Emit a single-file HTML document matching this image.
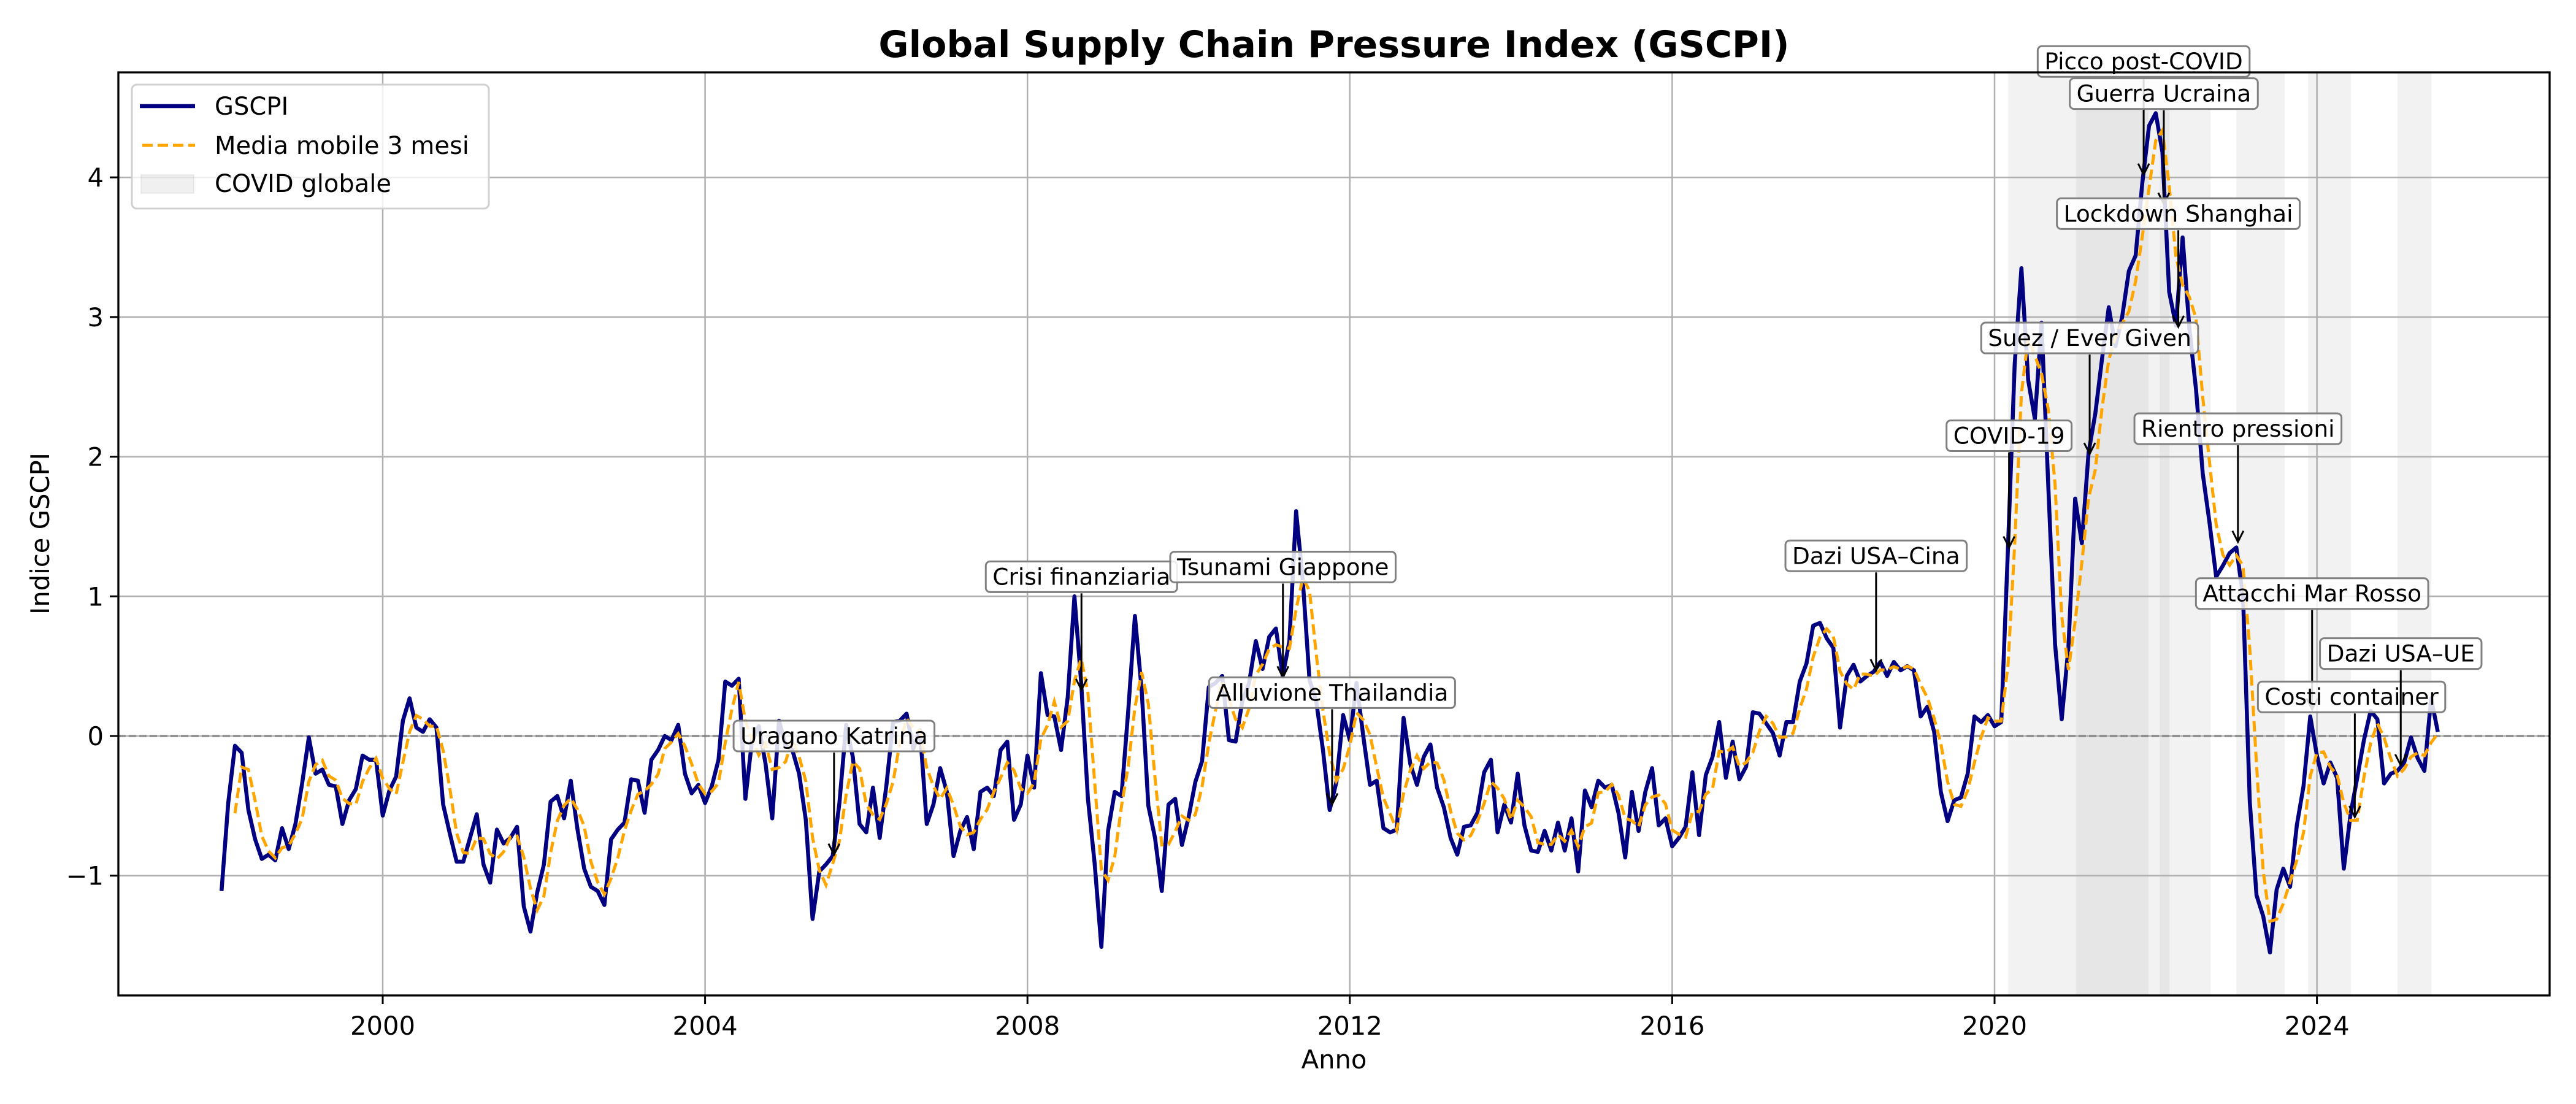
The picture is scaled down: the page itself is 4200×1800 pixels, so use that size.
<!DOCTYPE html>
<html><head><meta charset="utf-8"><style>
html,body{margin:0;padding:0;background:#fff;}
svg{display:block;font-family:"DejaVu Sans","Liberation Sans",sans-serif;}
</style></head><body>
<svg id="chart" width="4200" height="1800" viewBox="0 0 4200 1800" xmlns="http://www.w3.org/2000/svg">
<rect x="0" y="0" width="4200" height="1800" fill="#fff"/>
<text x="2175" y="93" text-anchor="middle" font-size="60" font-weight="bold">Global Supply Chain Pressure Index (GSCPI)</text>
<g id="spans"></g><g id="grid"></g><g id="zero"></g><g id="series"></g><g id="annots"></g><g id="axes"></g>
<text x="2175" y="1742" text-anchor="middle" font-size="41.7">Anno</text>
<text x="0" y="0" transform="translate(80,870) rotate(-90)" text-anchor="middle" font-size="41.7">Indice GSCPI</text>
<g>
<rect x="215" y="138" width="582" height="202" rx="8" fill="#fff" fill-opacity="0.8" stroke="#d0d0d0" stroke-width="3"/>
<line x1="228" y1="173" x2="318" y2="173" stroke="#000080" stroke-width="6.5"/>
<text x="350" y="187" font-size="40">GSCPI</text>
<line x1="232" y1="237" x2="318" y2="237" stroke="orange" stroke-width="5" stroke-dasharray="17,8"/>
<text x="350" y="251" font-size="40">Media mobile 3 mesi</text>
<rect x="230" y="285" width="86" height="30" fill="#808080" fill-opacity="0.12" stroke="#808080" stroke-opacity="0.12" stroke-width="2"/>
<text x="350" y="313" font-size="40">COVID globale</text>
</g>
</svg>
<script>
const startYear = 1998;
const gscpi = [
-1.11,-0.48,-0.07,-0.12,-0.53,-0.74,-0.88,-0.85,-0.89,-0.66,-0.81,-0.63,
-0.34,-0.01,-0.27,-0.24,-0.35,-0.36,-0.63,-0.46,-0.38,-0.14,-0.17,-0.17,
-0.57,-0.39,-0.29,0.11,0.27,0.06,0.03,0.12,0.06,-0.49,-0.70,-0.90,
-0.90,-0.73,-0.56,-0.92,-1.05,-0.67,-0.77,-0.73,-0.65,-1.22,-1.40,-1.12,
-0.92,-0.47,-0.43,-0.59,-0.32,-0.67,-0.95,-1.08,-1.11,-1.21,-0.74,-0.67,
-0.62,-0.31,-0.32,-0.55,-0.17,-0.10,0.0,-0.03,0.08,-0.27,-0.41,-0.35,
-0.48,-0.36,-0.17,0.39,0.36,0.41,-0.45,-0.03,0.07,-0.20,-0.59,0.11,
-0.07,-0.10,-0.27,-0.60,-1.31,-0.97,-0.92,-0.86,-0.48,0.08,-0.15,-0.63,
-0.69,-0.37,-0.73,-0.35,0.10,0.11,0.16,-0.09,0.04,-0.63,-0.49,-0.23,
-0.40,-0.86,-0.68,-0.58,-0.81,-0.40,-0.37,-0.43,-0.10,-0.04,-0.60,-0.49,
-0.14,-0.37,0.45,0.15,0.14,-0.10,0.28,1.0,0.38,-0.45,-0.91,-1.51,
-0.68,-0.40,-0.43,0.18,0.86,0.33,-0.50,-0.73,-1.11,-0.49,-0.45,-0.78,
-0.58,-0.33,-0.18,0.35,0.38,0.43,-0.03,-0.04,0.25,0.38,0.68,0.48,
0.71,0.77,0.43,0.68,1.61,1.11,0.40,0.25,-0.10,-0.53,-0.33,0.15,
-0.03,0.38,0.0,-0.35,-0.32,-0.66,-0.69,-0.67,0.13,-0.20,-0.35,-0.15,
-0.06,-0.37,-0.51,-0.73,-0.85,-0.65,-0.64,-0.55,-0.26,-0.17,-0.69,-0.49,
-0.62,-0.27,-0.64,-0.82,-0.83,-0.68,-0.82,-0.62,-0.82,-0.59,-0.97,-0.39,
-0.51,-0.32,-0.37,-0.35,-0.55,-0.87,-0.40,-0.68,-0.40,-0.23,-0.64,-0.59,
-0.79,-0.73,-0.65,-0.26,-0.71,-0.28,-0.15,0.10,-0.30,-0.04,-0.31,-0.22,
0.17,0.16,0.09,0.02,-0.14,0.10,0.10,0.39,0.52,0.79,0.81,0.70,
0.63,0.06,0.43,0.51,0.39,0.43,0.46,0.53,0.43,0.53,0.47,0.50,
0.47,0.14,0.21,0.03,-0.40,-0.61,-0.46,-0.44,-0.27,0.14,0.10,0.15,
0.07,0.10,1.35,2.66,3.35,2.55,2.27,2.96,1.79,0.66,0.12,0.64,
1.70,1.38,2.03,2.31,2.70,3.07,2.79,3.00,3.33,3.44,3.96,4.37,
4.46,4.18,3.18,2.94,3.57,2.92,2.48,1.88,1.53,1.14,1.22,1.31,
1.35,1.00,-0.47,-1.14,-1.29,-1.55,-1.10,-0.95,-1.08,-0.64,-0.36,0.14,
-0.14,-0.34,-0.19,-0.30,-0.95,-0.56,-0.30,-0.03,0.18,0.12,-0.34,-0.27,
-0.25,-0.19,-0.01,-0.16,-0.25,0.27,0.03
];
const xTicks = [2000,2004,2008,2012,2016,2020,2024];
const yTicks = [-1,0,1,2,3,4];
const spanStarts = [2020.17,2021.01,2022.05,2023.0,2023.89,2025.0];
const spanEnds   = [2022.68,2021.91,2022.17,2023.6,2024.42,2025.42];
const annText = ["Uragano Katrina","Crisi finanziaria","Tsunami Giappone","Alluvione Thailandia","Dazi USA–Cina","COVID-19","Suez / Ever Given","Picco post-COVID","Guerra Ucraina","Lockdown Shanghai","Rientro pressioni","Attacchi Mar Rosso","Costi container","Dazi USA–UE"];
const annTextX = [2005.6,2008.67,2011.17,2011.78,2018.53,2020.18,2021.18,2021.85,2022.1,2022.28,2023.02,2023.94,2024.43,2025.04];
const annTextY = [0.0,1.14,1.21,0.31,1.29,2.15,2.85,4.83,4.6,3.74,2.2,1.02,0.28,0.59];
const annPtX = [2005.6,2008.67,2011.17,2011.78,2018.53,2020.18,2021.18,2021.85,2022.1,2022.28,2023.02,2023.94,2024.47,2025.04];
const annPtY = [-0.85,0.33,0.42,-0.49,0.47,1.35,2.02,4.02,3.81,2.93,1.39,0.19,-0.58,-0.21];

const L=193,R=4157,T=118,B=1623;
const X = yr => 624 + (yr-2000)*131.4;
const Y = v => 1200 - v*227.7;
const NS="http://www.w3.org/2000/svg";
function mk(tag, parent, attrs){const e=document.createElementNS(NS,tag);for(const k in attrs)e.setAttribute(k,attrs[k]);parent.appendChild(e);return e;}

const gs=document.getElementById('spans');
spanStarts.forEach((s,i)=>{
  const r=mk('rect',gs,{x:X(s),y:T,width:X(spanEnds[i])-X(s),height:B-T,fill:'#808080','fill-opacity':0.1});
  
  
});
const gg=document.getElementById('grid');
const ga=document.getElementById('axes');
xTicks.forEach(t=>{
  const l=mk('line',gg,{x1:X(t),x2:X(t),y1:T,y2:B,stroke:'#b0b0b0','stroke-width':2.5});
  
  
  const tk=mk('line',ga,{x1:X(t),x2:X(t),y1:B,y2:B+14,stroke:'#000','stroke-width':3});
  
  
  const tx=mk('text',ga,{x:X(t),y:1687,'text-anchor':'middle','font-size':41.7});
  tx.textContent=t;
  
  
});
yTicks.forEach(t=>{
  const l=mk('line',gg,{x1:L,x2:R,y1:Y(t),y2:Y(t),stroke:'#b0b0b0','stroke-width':2.5});
  
  
  const tk=mk('line',ga,{x1:L-14,x2:L,y1:Y(t),y2:Y(t),stroke:'#000','stroke-width':3});
  
  
  const tx=mk('text',ga,{x:L-24,y:Y(t)+15,'text-anchor':'end','font-size':41.7});
  tx.textContent=(t<0?'\u2212'+Math.abs(t):t);
  
  
});
const sp=mk('rect',ga,{x:L,y:T,width:R-L,height:B-T,fill:'none',stroke:'#000','stroke-width':3.3});



const zl=mk('line',document.getElementById('zero'),{x1:L,x2:R,y1:Y(0),y2:Y(0),stroke:'#808080','stroke-width':3,'stroke-dasharray':'12,5'});



const gse=document.getElementById('series');
const ptsMain=gscpi.map((v,i)=>X(startYear+i/12).toFixed(1)+','+Y(v).toFixed(1)).join(' ');
const pl=mk('polyline',gse,{points:ptsMain,fill:'none',stroke:'#000080','stroke-width':6.5,'stroke-linejoin':'round'});


const ma=[];
for(let i=2;i<gscpi.length;i++){ma.push([i,(gscpi[i]+gscpi[i-1]+gscpi[i-2])/3]);}
const ptsMa=ma.map(p=>X(startYear+p[0]/12).toFixed(1)+','+Y(p[1]).toFixed(1)).join(' ');
const pm=mk('polyline',gse,{points:ptsMa,fill:'none',stroke:'orange','stroke-width':5,'stroke-dasharray':'17,8'});



const gan=document.getElementById('annots');
annText.forEach((txt,i)=>{
  const g=mk('g',gan,{});
  
  
  const cx=X(annTextX[i]), cy=Y(annTextY[i]);
  const t=mk('text',g,{x:cx,y:cy+13,'text-anchor':'middle','font-size':37.5});
  t.textContent=txt;
  const w=t.getComputedTextLength();
  const box=mk('rect',g,{x:cx-w/2-11,y:cy-25,width:w+22,height:50,rx:7,fill:'#fff','fill-opacity':0.85,stroke:'#808080','stroke-width':3});
  g.insertBefore(box,t);
  const px=X(annPtX[i]), py=Y(annPtY[i]);
  mk('line',g,{x1:px,y1:cy+27,x2:px,y2:py,stroke:'#000','stroke-width':3});
  mk('polyline',g,{points:(px-9)+','+(py-18)+' '+px+','+py+' '+(px+9)+','+(py-18),fill:'none',stroke:'#000','stroke-width':3});
});
</script>
</body></html>
